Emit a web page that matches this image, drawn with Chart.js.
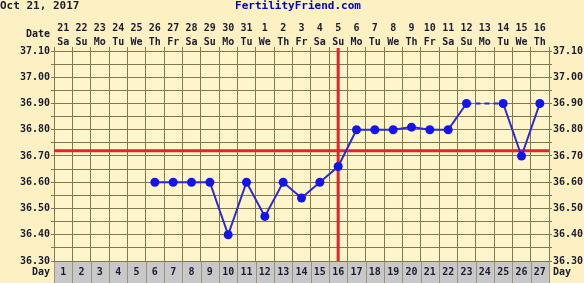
<!DOCTYPE html>
<html>
<head>
<meta charset="utf-8">
<script src="https://cdn.jsdelivr.net/npm/chart.js@4.4.1/dist/chart.umd.min.js"></script>
<style>
  html, body { margin: 0; padding: 0; background: #fdf0c2; }
  canvas { display: block; }
</style>
</head>
<body>
<canvas id="bbt" width="584" height="283"></canvas>
<script>
// ---- chart data ----
const chartDate = 'Oct 21, 2017';
const siteName  = 'FertilityFriend.com';
const cycleDays = ['1','2','3','4','5','6','7','8','9','10','11','12','13','14','15','16','17','18','19','20','21','22','23','24','25','26','27'];
const dates     = ['21','22','23','24','25','26','27','28','29','30','31','1','2','3','4','5','6','7','8','9','10','11','12','13','14','15','16'];
const weekdays  = ['Sa','Su','Mo','Tu','We','Th','Fr','Sa','Su','Mo','Tu','We','Th','Fr','Sa','Su','Mo','Tu','We','Th','Fr','Sa','Su','Mo','Tu','We','Th'];
const temps     = [null, null, null, null, null,
                   36.60, 36.60, 36.60, 36.60, 36.40, 36.60, 36.47, 36.60, 36.54, 36.60, 36.66,
                   36.80, 36.80, 36.80, 36.81, 36.80, 36.80, 36.90, null, 36.90, 36.70, 36.90];
const coverline    = 36.72;
const ovulationDay = 16;

// ---- look ----
const FONT      = { family: 'DejaVu Sans Mono', size: 10, weight: 'bold' };
const TEXT      = '#1c1c30';
const GRID      = '#85764f';
const PLOT_BG   = '#fff5cb';
const DAYBAR_BG = '#c8c8c8';
const RED       = '#e02626';
const BLUE      = '#2a2ad6';

const tempLabel = v => (Math.round(v * 100) % 10 === 0 ? v.toFixed(2) : '');

// fondo, barra de dias, lineas rojas y textos sueltos
const chartDecor = {
    id: 'chartDecor',
    beforeDraw(chart) {
        const { ctx, chartArea: a, scales } = chart;
        const x = scales.x;
        const cell = x.getPixelForValue(1) - x.getPixelForValue(0);
        ctx.save();
        ctx.fillStyle = PLOT_BG;
        ctx.fillRect(a.left, a.top, a.right - a.left, a.bottom - a.top);
        ctx.fillStyle = DAYBAR_BG;
        ctx.fillRect(a.left, a.bottom, a.right - a.left, chart.height - a.bottom);
        ctx.strokeStyle = '#9c9478';
        ctx.lineWidth = 1;
        for (let i = 0; i <= cycleDays.length; i++) {
            const px = Math.round(x.getPixelForValue(0) - cell / 2 + i * cell) + 0.5;
            ctx.beginPath(); ctx.moveTo(px, a.bottom); ctx.lineTo(px, chart.height); ctx.stroke();
        }
        ctx.restore();
    },
    beforeDatasetsDraw(chart) {
        const { ctx, chartArea: a, scales } = chart;
        const cx = scales.x.getPixelForValue(ovulationDay - 1);
        const cy = scales.y.getPixelForValue(coverline);
        ctx.save();
        ctx.strokeStyle = RED;
        ctx.lineWidth = 3;
        ctx.beginPath(); ctx.moveTo(a.left, cy); ctx.lineTo(a.right, cy); ctx.stroke();
        ctx.beginPath(); ctx.moveTo(cx, a.top - 3); ctx.lineTo(cx, a.bottom); ctx.stroke();
        ctx.restore();
    },
    afterDraw(chart) {
        const { ctx, chartArea: a } = chart;
        ctx.save();
        ctx.font = 'bold 11px "DejaVu Sans Mono"';
        ctx.textBaseline = 'middle';
        ctx.fillStyle = TEXT;
        ctx.textAlign = 'left';
        ctx.fillText(chartDate, 0, 6);
        ctx.fillStyle = '#0000c4';
        ctx.textAlign = 'center';
        ctx.fillText(siteName, 298, 6);
        ctx.font = 'bold 10px "DejaVu Sans Mono"';
        ctx.fillStyle = TEXT;
        ctx.textAlign = 'right';
        ctx.fillText('Date', a.left - 4, 34);
        ctx.fillText('Day', a.left - 4, 272);
        ctx.textAlign = 'left';
        ctx.fillText('Day', a.right + 4, 272);
        ctx.restore();
    },
};

new Chart(document.getElementById('bbt'), {
    type: 'line',
    data: {
        labels: cycleDays,
        datasets: [{
            data: temps,
            borderColor: BLUE,
            borderWidth: 2,
            backgroundColor: '#1414ee',
            pointBackgroundColor: '#1414ee',
            pointBorderWidth: 0,
            pointRadius: 4.5,
            spanGaps: true,
            segment: { borderDash: c => (c.p0.skip || c.p1.skip ? [5, 4] : undefined) },
            xAxisID: 'x',
            yAxisID: 'y',
        }],
    },
    options: {
        responsive: false,
        animation: false,
        layout: { padding: 0 },
        plugins: { legend: { display: false }, tooltip: { enabled: false } },
        scales: {
            x: {
                type: 'category', position: 'bottom', offset: true,
                labels: cycleDays,
                grid: { display: false, drawTicks: false },
                border: { color: GRID },
                ticks: { font: FONT, color: TEXT, padding: 5, autoSkip: false, maxRotation: 0 },
                afterFit: s => { s.height = 22; },
            },
            xTop: {
                type: 'category', axis: 'x', position: 'top', offset: true,
                labels: dates.map((d, i) => [d, weekdays[i]]),
                grid: { color: GRID, offset: true, tickLength: 4 },
                border: { color: GRID },
                ticks: { font: { ...FONT, lineHeight: 1.4 }, color: TEXT, padding: -2, autoSkip: false, maxRotation: 0 },
                afterFit: s => { s.height = 51; },
            },
            y: {
                position: 'left', min: 36.3, max: 37.1,
                grid: { color: GRID, tickLength: 3 },
                border: { color: GRID },
                ticks: { stepSize: 0.05, autoSkip: false, callback: tempLabel, font: FONT, color: TEXT, padding: 1 },
                afterFit: s => { s.width = 54; },
            },
            yRight: {
                axis: 'y', position: 'right', min: 36.3, max: 37.1,
                grid: { color: GRID, tickLength: 3, drawOnChartArea: false },
                border: { color: GRID },
                ticks: { stepSize: 0.05, autoSkip: false, callback: tempLabel, font: FONT, color: TEXT, padding: 1 },
                afterFit: s => { s.width = 35; },
            },
        },
    },
    plugins: [chartDecor],
});
</script>
</body>
</html>
